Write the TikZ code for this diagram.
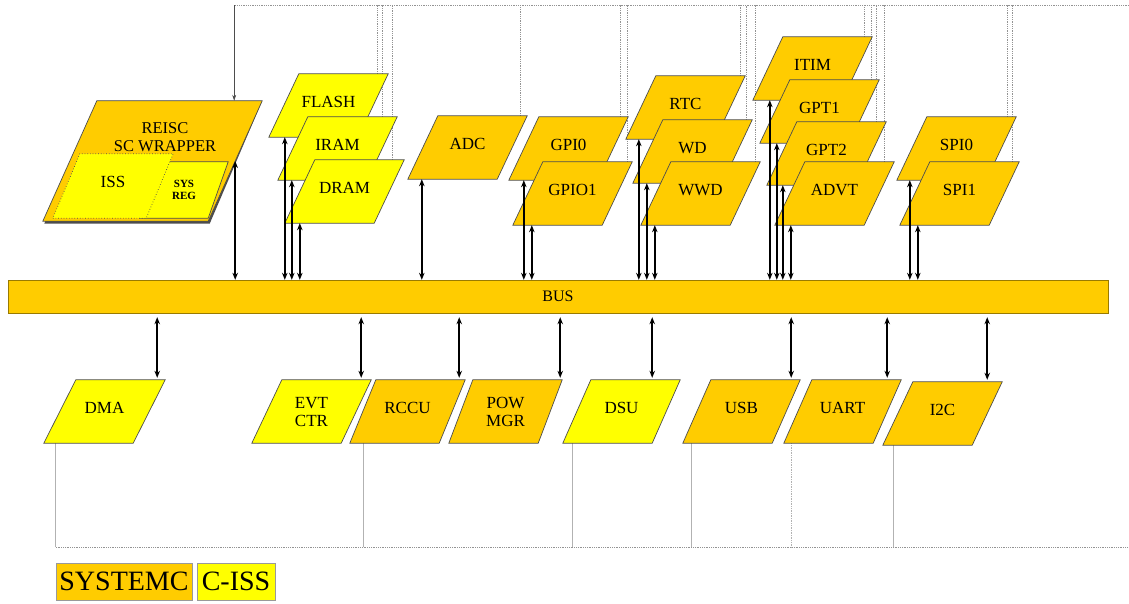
\documentclass[tikz,border=0pt]{standalone}
\usepackage{fontspec}
\setmainfont{Liberation Serif}
\usetikzlibrary{arrows.meta, backgrounds, calc}
\definecolor{sysc}{HTML}{FFCC00}
\definecolor{ciss}{HTML}{FFFF00}
\definecolor{edge}{HTML}{4D4D4D}

\begin{document}
\begin{tikzpicture}[x=1pt, y=-1pt,
    blk/.style={minimum width=89pt, minimum height=63pt, inner sep=0pt, text depth=8pt,
      font=\fontsize{17}{18}\selectfont, align=center},
    twoline/.style={text depth=0pt},
    slab/.style={draw=edge, line width=0.7pt},
    arr/.style={{Stealth[length=7pt,width=5.5pt]}-{Stealth[length=7pt,width=5.5pt]}, line width=1.8pt},
    net/.style={gray!85, line width=0.8pt, densely dotted},
    tap/.style={gray!60, line width=0.7pt},
    key/.style={draw=gray!80, line width=0.6pt, minimum height=37pt, inner sep=0pt,
      font=\fontsize{28}{28}\selectfont}]
  \useasboundingbox (0,0) rectangle (1129,603);

  % bus
  \node[draw=sysc!60!black, fill=sysc, minimum width=1100pt, minimum height=33pt, inner sep=0pt,
        font=\fontsize{16}{16}\selectfont] (bus) at (558,296.5) {BUS};

  % core wrapper
  \node[minimum width=165pt, minimum height=120pt, inner sep=0pt] (reisc) at (152.5,161) {};
  \node[blk, minimum width=68pt, minimum height=56pt, text depth=0pt,
        font=\bfseries\fontsize{11}{12}\selectfont] (sysreg) at (184,190) {SYS\\REG};
  \node[blk, minimum width=93pt, minimum height=64pt] (iss) at (113,186) {ISS};
  \node[font=\fontsize{16.5}{18}\selectfont, align=center] (wrap) at (165,137) {REISC\\SC WRAPPER};

  % upper peripherals
  \node[blk] (flash) at (328.5,105.5) {FLASH};
  \node[blk] (iram)  at (337.5,148.5) {IRAM};
  \node[blk] (dram)  at (344.5,191.5) {DRAM};
  \node[blk] (adc)   at (467.5,147.5) {ADC};
  \node[blk] (gpi0)  at (568.5,148.5) {GPI0};
  \node[blk] (gpio1) at (572.5,193.5) {GPIO1};
  \node[blk] (rtc)   at (685.5,107.5) {RTC};
  \node[blk] (wd)    at (692.5,151.5) {WD};
  \node[blk] (wwd)   at (700.5,193.5) {WWD};
  \node[blk] (itim)  at (812.5,68.5)  {ITIM};
  \node[blk] (gpt1)  at (819.5,111.5) {GPT1};
  \node[blk] (gpt2)  at (826.5,153.5) {GPT2};
  \node[blk] (advt)  at (834.5,193.5) {ADVT};
  \node[blk] (spi0)  at (956.5,148.5) {SPI0};
  \node[blk] (spi1)  at (959.5,193.5) {SPI1};

  % lower peripherals
  \node[blk] (dma)  at (104.5,411.5) {DMA};
  \node[blk, twoline] (evt) at (311.5,411.5) {EVT\\CTR};
  \node[blk] (rccu) at (407.5,411.5) {RCCU};
  \node[blk, twoline] (pow) at (505.5,411.5) {POW\\MGR};
  \node[blk] (dsu)  at (621.5,411.5) {DSU};
  \node[blk] (usb)  at (741.5,411.5) {USB};
  \node[blk] (uart) at (842.5,411.5) {UART};
  \node[blk] (i2c)  at (942.5,413.5) {I2C};

  % legend
  \node[key, fill=sysc, minimum width=136pt] (ksc) at (124,581.5) {SYSTEMC};
  \node[key, fill=ciss, minimum width=78pt]  (kci) at (236,581.5) {C-ISS};

  \coordinate (topR) at (1129,5);
  \coordinate (botR) at (1129,547);

  % bus links
  \draw[arr] (reisc.east) -- (reisc.east |- bus.north);
  \foreach \n/\d in {flash/1, iram/-1, dram/0, adc/-1, gpi0/0, gpio1/4, rtc/-2, wd/-1, wwd/-1,
                     itim/2, gpt1/2, gpt2/1, advt/1, spi0/-2, spi1/3}
    \draw[arr] ($(\n.south west)+(\d,0)$) coordinate (tmp) -- (tmp |- bus.north);
  \foreach \n/\d in {dma/8, evt/5, rccu/7, pow/10, dsu/-14, usb/5, uart/0, i2c/0}
    \draw[arr, shorten <=2pt, shorten >=4pt] ($(\n.north east)+(\d,0)$) coordinate (tmp) -- (tmp |- bus.south);

  \begin{scope}[on background layer]
    % side-band wiring behind the blocks
    \coordinate (feed) at ($(reisc.north east)+(-1,0)$);
    \draw[net] (topR) -- (feed |- topR);
    \draw[-{Stealth[length=6pt,width=4pt]}, edge, line width=0.6pt] (feed |- topR) -- (feed);
    \foreach \n/\d in {flash/4, iram/0, dram/3, adc/8, gpi0/7, gpio1/10, rtc/10, wd/9, wwd/10,
                       itim/7, gpt1/7, gpt2/5, advt/5, spi0/6, spi1/8}
      \draw[net] ($(\n.north east)+(\d,0)$) coordinate (tmp) -- (tmp |- topR);
    \foreach \n/\d in {dma/-4, rccu/1, dsu/-4, usb/-5, i2c/-4}
      \draw[tap] ($(\n.south west)+(\d,0)$) coordinate (t-\n) -- (t-\n |- botR);
    \draw[tap, densely dotted] ($(uart.south west)+(-6,0)$) coordinate (t-uart) -- (t-uart |- botR);
    \draw[net] (t-dma |- botR) -- (botR);

    % shadow under the wrapper
    \fill[edge] ($(reisc.south west)+(-25.5,2.5)$) -- ($(reisc.south east)+(-25.5,2.5)$)
      -- ($(reisc.north east)+(27,0)$) -- ($(reisc.north west)+(27,0)$) -- cycle;
    % slanted block outlines, stacked back to front
    \foreach \n/\c/\s in {reisc/sysc/27, sysreg/ciss/10, flash/ciss/15, iram/ciss/15, dram/ciss/15,
                          adc/sysc/15, gpi0/sysc/15, gpio1/sysc/15, rtc/sysc/15, wd/sysc/15, wwd/sysc/15,
                          itim/sysc/15, gpt1/sysc/15, gpt2/sysc/15, advt/sysc/15, spi0/sysc/15, spi1/sysc/15,
                          dma/ciss/16, evt/ciss/15, rccu/sysc/13, pow/sysc/12, dsu/ciss/14,
                          usb/sysc/14, uart/sysc/14, i2c/sysc/15}
      \draw[slab, fill=\c] ($(\n.south west)+(-\s,0)$) -- ($(\n.south east)+(-\s,0)$)
        -- ($(\n.north east)+(\s,0)$) -- ($(\n.north west)+(\s,0)$) -- cycle;
    \draw[slab, dotted, fill=ciss] ($(iss.south west)+(-13.5,0)$) -- ($(iss.south east)+(-13.5,0)$)
      -- ($(iss.north east)+(13.5,0)$) -- ($(iss.north west)+(13.5,0)$) -- cycle;
  \end{scope}
\end{tikzpicture}
\end{document}
